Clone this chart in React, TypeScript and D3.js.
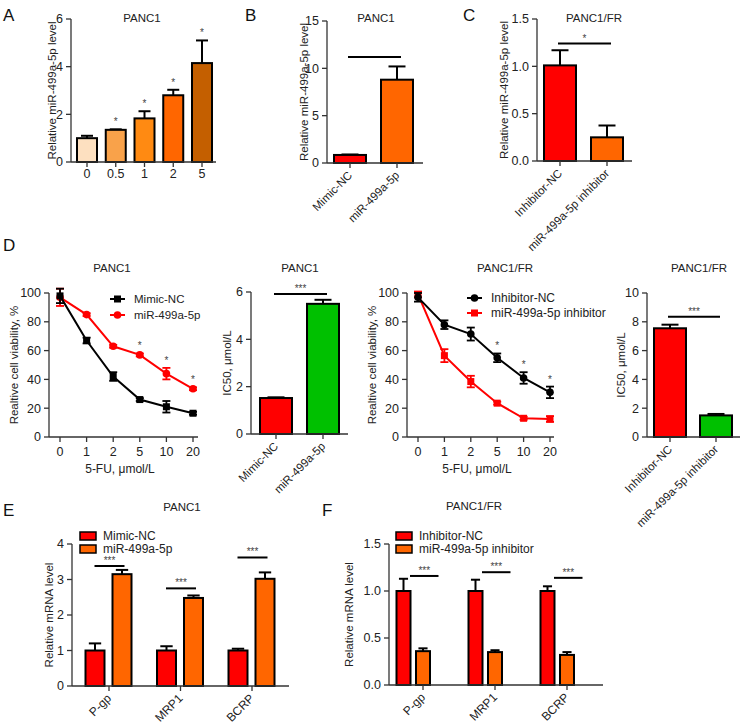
import React from 'react';
import * as d3 from 'd3';

const FONT = '"Liberation Sans", Arial, Helvetica, sans-serif';
const INK = '#222';
const AXIS = '#333';

// ---------- A: PANC1, miR-499a-5p level vs 5-FU dose ----------
const doseLabels = ['0', '0.5', '1', '2', '5'];
const doseLevel = [1.0, 1.35, 1.83, 2.8, 4.15];
const doseLevelErr = [0.1, 0.02, 0.3, 0.23, 0.95];
const doseColors = ['#fde0c0', '#f9a24a', '#ff8a12', '#ff6600', '#c45f00'];
const doseStars = ['', '*', '*', '*', '*'];
const doseTicks = [0, 2, 4, 6];

// ---------- B: PANC1 mimic ----------
const mimicGroups = ['Mimic-NC', 'miR-499a-5p'];
const mimicLevel = [0.85, 8.8];
const mimicLevelErr = [0.05, 1.4];
const mimicTicks = [0, 5, 10, 15];

// ---------- C: PANC1/FR inhibitor ----------
const inhibGroups = ['Inhibitor-NC', 'miR-499a-5p inhibitor'];
const inhibLevel = [1.01, 0.25];
const inhibLevelErr = [0.16, 0.125];
const inhibTicks = [0, 0.5, 1.0, 1.5];

// ---------- D: viability and IC50 ----------
const fuDoses = ['0', '1', '2', '5', '10', '20'];
const viabTicks = [0, 20, 40, 60, 80, 100];
const mimicNCViab = [98, 67, 42, 26, 21, 16.5];
const mimicNCViabErr = [5, 2, 3, 1, 4, 1];
const mimicViab = [97, 85, 63, 57, 44, 33.5];
const mimicViabErr = [6, 1, 1, 1, 4, 1];
const mimicViabStars = ['', '', '', '*', '*', '*'];
const inhNCViab = [97, 78, 71.5, 55, 41, 31];
const inhNCViabErr = [3, 3, 4.5, 3, 4, 4];
const inhViab = [99, 56.5, 38.5, 23.5, 13, 12.5];
const inhViabErr = [2, 4.5, 4, 1, 1, 2];
const inhNCViabStars = ['', '', '', '*', '*', '*'];

const mimicIC50 = [1.52, 5.5];
const mimicIC50Err = [0.03, 0.17];
const mimicIC50Ticks = [0, 2, 4, 6];
const inhIC50 = [7.55, 1.5];
const inhIC50Err = [0.25, 0.1];
const inhIC50Ticks = [0, 2, 4, 6, 8, 10];

// ---------- E / F: drug resistance genes ----------
const genes = ['P-gp', 'MRP1', 'BCRP'];
const mimicNCmRNA = [1, 1, 1];
const mimicNCmRNAErr = [0.2, 0.12, 0.05];
const mimicmRNA = [3.15, 2.48, 3.02];
const mimicmRNAErr = [0.12, 0.07, 0.18];
const mimicSig = [3.38, 2.75, 3.62];
const mRNATicksE = [0, 1, 2, 3, 4];
const inhNCmRNA = [1, 1, 1];
const inhNCmRNAErr = [0.13, 0.12, 0.05];
const inhmRNA = [0.36, 0.35, 0.32];
const inhmRNAErr = [0.03, 0.02, 0.03];
const inhSig = [1.16, 1.2, 1.14];
const mRNATicksF = [0, 0.5, 1.0, 1.5];

const RED = '#ff0000';
const ORANGE = '#ff6600';
const GREEN = '#00c000';

const fmt1 = (v: number) => v.toFixed(1);
const fmt0 = (v: number) => String(v);

const TICK_FS = 12.5;

const YAxis = ({ x, y, ticks, fmt }: { x: number; y: d3.ScaleLinear<number, number>; ticks: number[]; fmt: (v: number) => string }) => (
    <g>
        <line x1={x} x2={x} y1={y(ticks[0])} y2={y(ticks[ticks.length - 1])} stroke={AXIS} strokeWidth={1.3} />
        {ticks.map(t => (
            <g key={t}>
                <line x1={x - 5} x2={x} y1={y(t)} y2={y(t)} stroke={AXIS} strokeWidth={1.3} />
                <text x={x - 8} y={y(t)} dy="0.35em" textAnchor="end" fontSize={TICK_FS} fill={INK}>{fmt(t)}</text>
            </g>
        ))}
    </g>
);

const YTitle = ({ x, y, text }: { x: number; y: number; text: string }) => (
    <text transform={`translate(${x},${y}) rotate(-90)`} textAnchor="middle" dy="0.35em" fontSize={11.5} fill={INK}>{text}</text>
);

interface BarProps {
    cats: string[]; values: number[]; errors: number[]; colors: string[];
    ticks: number[]; fmt?: (v: number) => string;
    axisX: number; axisEnd: number; yTop: number; yBottom: number;
    first: number; last: number; barW: number;
    title: string; titleX: number; titleY: number;
    yLabel: string; yLabelX: number;
    rotate?: boolean; stars?: string[]; sig?: { value: number; text: string };
}

const BarPanel: React.FC<BarProps> = (p) => {
    const y = d3.scaleLinear().domain([0, p.ticks[p.ticks.length - 1]]).range([p.yBottom, p.yTop]);
    const x = d3.scalePoint<string>().domain(p.cats).range([p.first, p.last]);
    const cap = Math.min(p.barW * 0.6, 17);
    return (
        <g>
            <text x={p.titleX} y={p.titleY} textAnchor="middle" fontSize={11.5} fill={INK}>{p.title}</text>
            <YTitle x={p.yLabelX} y={(p.yTop + p.yBottom) / 2} text={p.yLabel} />
            {p.cats.map((c, i) => {
                const cx = x(c)!;
                const top = y(p.values[i] + p.errors[i]);
                return (
                    <g key={c}>
                        <line x1={cx} x2={cx} y1={y(p.values[i])} y2={top} stroke="#000" strokeWidth={2} />
                        <line x1={cx - cap / 2} x2={cx + cap / 2} y1={top} y2={top} stroke="#000" strokeWidth={2} />
                        <rect x={cx - p.barW / 2} y={y(p.values[i])} width={p.barW} height={p.yBottom - y(p.values[i])}
                            fill={p.colors[i]} stroke="#000" strokeWidth={2} />
                        <line x1={cx} x2={cx} y1={p.yBottom} y2={p.yBottom + 5} stroke={AXIS} strokeWidth={1.3} />
                        {p.stars && p.stars[i] && (
                            <text x={cx} y={top - 4} textAnchor="middle" fontSize={10} fill="#444">{p.stars[i]}</text>
                        )}
                        {p.rotate ? (
                            <text transform={`translate(${cx + 3},${p.yBottom + 13}) rotate(-45)`} textAnchor="end" fontSize={11.5} fill={INK}>{c}</text>
                        ) : (
                            <text x={cx} y={p.yBottom + 16} textAnchor="middle" fontSize={TICK_FS} fill={INK}>{c}</text>
                        )}
                    </g>
                );
            })}
            <line x1={p.axisX} x2={p.axisEnd} y1={p.yBottom} y2={p.yBottom} stroke={AXIS} strokeWidth={1.3} />
            <YAxis x={p.axisX} y={y} ticks={p.ticks} fmt={p.fmt ?? fmt0} />
            {p.sig && (
                <g>
                    <line x1={x(p.cats[0])! - 2} x2={x(p.cats[p.cats.length - 1])! + 4} y1={y(p.sig.value)} y2={y(p.sig.value)} stroke="#000" strokeWidth={2} />
                    <text x={(x(p.cats[0])! + x(p.cats[p.cats.length - 1])!) / 2 + 1} y={y(p.sig.value) - 2} textAnchor="middle" fontSize={10} fill="#444">{p.sig.text}</text>
                </g>
            )}
        </g>
    );
};

interface Series { values: number[]; errors: number[]; color: string; marker: 'square' | 'circle'; label: string }

const Marker = ({ kind, x, y, color }: { kind: 'square' | 'circle'; x: number; y: number; color: string }) =>
    kind === 'square'
        ? <rect x={x - 3.5} y={y - 3.5} width={7} height={7} fill={color} />
        : <circle cx={x} cy={y} r={3.8} fill={color} />;

interface LineProps {
    doses: string[]; series: Series[]; ticks: number[];
    axisX: number; axisEnd: number; yTop: number; yBottom: number; first: number; last: number;
    title: string; titleX: number; titleY: number; yLabel: string; yLabelX: number;
    xLabel: string; xLabelX: number;
    legendX: number; legendY: number; legendGap: number; legendFont: number;
    starIndex: number; stars: string[];
}

const LinePanel: React.FC<LineProps> = (p) => {
    const y = d3.scaleLinear().domain([0, p.ticks[p.ticks.length - 1]]).range([p.yBottom, p.yTop]);
    const x = d3.scalePoint<string>().domain(p.doses).range([p.first, p.last]);
    const line = d3.line<number>().x((_, i) => x(p.doses[i])!).y(d => y(d));
    const starS = p.series[p.starIndex];
    return (
        <g>
            <text x={p.titleX} y={p.titleY} textAnchor="middle" fontSize={11.5} fill={INK}>{p.title}</text>
            <YTitle x={p.yLabelX} y={(p.yTop + p.yBottom) / 2} text={p.yLabel} />
            <line x1={p.axisX} x2={p.axisEnd} y1={p.yBottom} y2={p.yBottom} stroke={AXIS} strokeWidth={1.3} />
            {p.doses.map(d => (
                <g key={d}>
                    <line x1={x(d)!} x2={x(d)!} y1={p.yBottom} y2={p.yBottom + 5} stroke={AXIS} strokeWidth={1.3} />
                    <text x={x(d)!} y={p.yBottom + 19} textAnchor="middle" fontSize={TICK_FS} fill={INK}>{d}</text>
                </g>
            ))}
            <text x={p.xLabelX} y={p.yBottom + 36} textAnchor="middle" fontSize={12} fill={INK}>{p.xLabel}</text>
            <YAxis x={p.axisX} y={y} ticks={p.ticks} fmt={fmt0} />
            {[...p.series].reverse().map(s => (
                <g key={s.label}>
                    <path d={line(s.values) ?? ''} fill="none" stroke={s.color} strokeWidth={2} />
                    {s.values.map((v, i) => {
                        const cx = x(p.doses[i])!;
                        const hi = y(v + s.errors[i]);
                        const lo = y(v - s.errors[i]);
                        return (
                            <g key={i}>
                                <line x1={cx} x2={cx} y1={hi} y2={lo} stroke={s.color} strokeWidth={1.8} />
                                <line x1={cx - 4} x2={cx + 4} y1={hi} y2={hi} stroke={s.color} strokeWidth={1.8} />
                                <line x1={cx - 4} x2={cx + 4} y1={lo} y2={lo} stroke={s.color} strokeWidth={1.8} />
                                <Marker kind={s.marker} x={cx} y={y(v)} color={s.color} />
                            </g>
                        );
                    })}
                </g>
            ))}
            {p.stars.map((st, i) => st && (
                <text key={i} x={x(p.doses[i])!} y={y(starS.values[i] + starS.errors[i]) - 4} textAnchor="middle" fontSize={10} fill="#444">{st}</text>
            ))}
            {p.series.map((s, i) => {
                const ly = p.legendY + i * p.legendGap;
                return (
                    <g key={s.label}>
                        <line x1={p.legendX} x2={p.legendX + 15} y1={ly} y2={ly} stroke={s.color} strokeWidth={2} />
                        <Marker kind={s.marker} x={p.legendX + 7.5} y={ly} color={s.color} />
                        <text x={p.legendX + 24} y={ly} dy="0.35em" fontSize={p.legendFont} fill={INK}>{s.label}</text>
                    </g>
                );
            })}
        </g>
    );
};

interface GroupProps {
    genes: string[]; series: { values: number[]; errors: number[]; color: string; label: string }[];
    offsets: number[]; barW: number; ticks: number[]; fmt: (v: number) => string;
    axisX: number; axisEnd: number; yTop: number; yBottom: number; first: number; last: number;
    title: string; titleX: number; titleY: number; yLabel: string; yLabelX: number;
    legendX: number; legendY: number;
    sig: number[]; sigSpan: [number, number];
}

const GroupedPanel: React.FC<GroupProps> = (p) => {
    const y = d3.scaleLinear().domain([0, p.ticks[p.ticks.length - 1]]).range([p.yBottom, p.yTop]);
    const x = d3.scalePoint<string>().domain(p.genes).range([p.first, p.last]);
    const cap = p.barW * 0.65;
    return (
        <g>
            <text x={p.titleX} y={p.titleY} textAnchor="middle" fontSize={11.5} fill={INK}>{p.title}</text>
            <YTitle x={p.yLabelX} y={(p.yTop + p.yBottom) / 2} text={p.yLabel} />
            {p.genes.map((g, gi) => {
                const gx = x(g)!;
                return (
                    <g key={g}>
                        {p.series.map((s, si) => {
                            const cx = gx + p.offsets[si];
                            const top = y(s.values[gi] + s.errors[gi]);
                            return (
                                <g key={s.label}>
                                    <line x1={cx} x2={cx} y1={y(s.values[gi])} y2={top} stroke="#000" strokeWidth={2} />
                                    <line x1={cx - cap / 2} x2={cx + cap / 2} y1={top} y2={top} stroke="#000" strokeWidth={2} />
                                    <rect x={cx - p.barW / 2} y={y(s.values[gi])} width={p.barW} height={p.yBottom - y(s.values[gi])}
                                        fill={s.color} stroke="#000" strokeWidth={2} />
                                </g>
                            );
                        })}
                        <line x1={gx} x2={gx} y1={p.yBottom} y2={p.yBottom + 5} stroke={AXIS} strokeWidth={1.3} />
                        <text transform={`translate(${gx + 3},${p.yBottom + 13}) rotate(-45)`} textAnchor="end" fontSize={12} fill={INK}>{g}</text>
                        <line x1={gx + p.sigSpan[0]} x2={gx + p.sigSpan[1]} y1={y(p.sig[gi])} y2={y(p.sig[gi])} stroke="#000" strokeWidth={2} />
                        <text x={gx + (p.sigSpan[0] + p.sigSpan[1]) / 2} y={y(p.sig[gi]) - 2} textAnchor="middle" fontSize={10} fill="#444">***</text>
                    </g>
                );
            })}
            <line x1={p.axisX} x2={p.axisEnd} y1={p.yBottom} y2={p.yBottom} stroke={AXIS} strokeWidth={1.3} />
            <YAxis x={p.axisX} y={y} ticks={p.ticks} fmt={p.fmt} />
            {p.series.map((s, i) => {
                const ly = p.legendY + i * 13;
                return (
                    <g key={s.label}>
                        <rect x={p.legendX} y={ly - 4} width={16} height={8} fill={s.color} stroke="#000" strokeWidth={1.5} />
                        <text x={p.legendX + 23} y={ly} dy="0.35em" fontSize={12} fill={INK}>{s.label}</text>
                    </g>
                );
            })}
        </g>
    );
};

const Letter = ({ x, y, t }: { x: number; y: number; t: string }) => (
    <text x={x} y={y} fontSize={17} fill="#111">{t}</text>
);

export default function App() {
    return (
        <svg width={747} height={725} style={{ position: 'absolute', left: 0, top: 0, background: '#fff' }} fontFamily={FONT}>
            <Letter x={3} y={21} t="A" />
            <Letter x={245} y={21} t="B" />
            <Letter x={463} y={21} t="C" />
            <Letter x={3} y={251} t="D" />
            <Letter x={3} y={516} t="E" />
            <Letter x={322} y={516} t="F" />

            <BarPanel cats={doseLabels} values={doseLevel} errors={doseLevelErr} colors={doseColors}
                ticks={doseTicks} axisX={71} axisEnd={216} yTop={19} yBottom={162}
                first={87} last={202} barW={20} title="PANC1" titleX={142} titleY={22}
                yLabel="Relative miR-499a-5p level" yLabelX={52} stars={doseStars} />

            <BarPanel cats={mimicGroups} values={mimicLevel} errors={mimicLevelErr} colors={[RED, ORANGE]}
                ticks={mimicTicks} axisX={327} axisEnd={423} yTop={21} yBottom={163}
                first={350} last={397} barW={32} title="PANC1" titleX={376} titleY={22}
                yLabel="Relative miR-499a-5p level" yLabelX={304} rotate sig={{ value: 11.2, text: '' }} />

            <BarPanel cats={inhibGroups} values={inhibLevel} errors={inhibLevelErr} colors={[RED, ORANGE]}
                ticks={inhibTicks} fmt={fmt1} axisX={537} axisEnd={632} yTop={19} yBottom={161}
                first={560} last={607} barW={32} title="PANC1/FR" titleX={594} titleY={22}
                yLabel="Relative miR-499a-5p level" yLabelX={504} rotate sig={{ value: 1.24, text: '*' }} />

            <LinePanel doses={fuDoses} ticks={viabTicks}
                series={[
                    { values: mimicNCViab, errors: mimicNCViabErr, color: '#000', marker: 'square', label: 'Mimic-NC' },
                    { values: mimicViab, errors: mimicViabErr, color: RED, marker: 'circle', label: 'miR-499a-5p' },
                ]}
                axisX={49} axisEnd={198} yTop={293} yBottom={437} first={60} last={193}
                title="PANC1" titleX={112} titleY={272} yLabel="Realtive cell viability, %" yLabelX={14}
                xLabel="5-FU, μmol/L" xLabelX={120}
                legendX={110} legendY={299} legendGap={16} legendFont={11.5}
                starIndex={1} stars={mimicViabStars} />

            <BarPanel cats={mimicGroups} values={mimicIC50} errors={mimicIC50Err} colors={[RED, GREEN]}
                ticks={mimicIC50Ticks} axisX={251} axisEnd={348} yTop={292} yBottom={434}
                first={276} last={323} barW={32} title="PANC1" titleX={300} titleY={272}
                yLabel="IC50, μmol/L" yLabelX={227} rotate sig={{ value: 5.92, text: '***' }} />

            <LinePanel doses={fuDoses} ticks={viabTicks}
                series={[
                    { values: inhNCViab, errors: inhNCViabErr, color: '#000', marker: 'circle', label: 'Inhibitor-NC' },
                    { values: inhViab, errors: inhViabErr, color: RED, marker: 'square', label: 'miR-499a-5p inhibitor' },
                ]}
                axisX={407} axisEnd={554} yTop={293} yBottom={437} first={418} last={550}
                title="PANC1/FR" titleX={505} titleY={272} yLabel="Realtive cell viability, %" yLabelX={372}
                xLabel="5-FU, μmol/L" xLabelX={477}
                legendX={467} legendY={298} legendGap={15} legendFont={12}
                starIndex={0} stars={inhNCViabStars} />

            <BarPanel cats={inhibGroups} values={inhIC50} errors={inhIC50Err} colors={[RED, GREEN]}
                ticks={inhIC50Ticks} axisX={647} axisEnd={740} yTop={293} yBottom={437}
                first={670} last={716} barW={32} title="PANC1/FR" titleX={699} titleY={272}
                yLabel="IC50, μmol/L" yLabelX={621} rotate sig={{ value: 8.35, text: '***' }} />

            <GroupedPanel genes={genes}
                series={[
                    { values: mimicNCmRNA, errors: mimicNCmRNAErr, color: RED, label: 'Mimic-NC' },
                    { values: mimicmRNA, errors: mimicmRNAErr, color: ORANGE, label: 'miR-499a-5p' },
                ]}
                offsets={[-14, 13]} barW={19} ticks={mRNATicksE} fmt={fmt0}
                axisX={72} axisEnd={289} yTop={544} yBottom={686} first={109} last={252}
                title="PANC1" titleX={182} titleY={511} yLabel="Relative mRNA level" yLabelX={49}
                legendX={80} legendY={536} sig={mimicSig} sigSpan={[-14.5, 15.5]} />

            <GroupedPanel genes={genes}
                series={[
                    { values: inhNCmRNA, errors: inhNCmRNAErr, color: RED, label: 'Inhibitor-NC' },
                    { values: inhmRNA, errors: inhmRNAErr, color: ORANGE, label: 'miR-499a-5p inhibitor' },
                ]}
                offsets={[-19.5, 0]} barW={14} ticks={mRNATicksF} fmt={fmt1}
                axisX={389} axisEnd={603} yTop={544} yBottom={685} first={423} last={567}
                title="PANC1/FR" titleX={474} titleY={510} yLabel="Relative mRNA level" yLabelX={349}
                legendX={396} legendY={536} sig={inhSig} sigSpan={[-13, 15.5]} />
        </svg>
    );
}
